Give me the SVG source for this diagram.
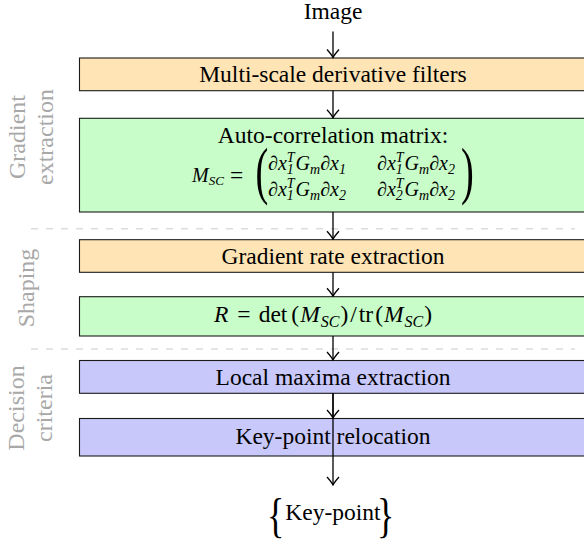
<svg xmlns="http://www.w3.org/2000/svg" width="584" height="541" viewBox="0 0 584 541">
<style>
.box{stroke:#1a1a1a;stroke-width:1.1}
.orange{fill:#FFE4B5}
.green{fill:#C8FCC8}
.blue{fill:#C8C8FA}
.t{font-family:"Liberation Serif","Times New Roman",serif;font-size:23.5px;text-anchor:middle;fill:#000}
.s{font-family:"Liberation Serif","Times New Roman",serif;font-size:23.5px;fill:#000}
.m{font-family:"Liberation Serif","Times New Roman",serif;font-size:20px;font-style:italic;fill:#000}
.i{font-style:italic}
.sub{font-size:14px;font-style:italic}
.sub16{font-size:16px;font-style:italic}
.lab{font-family:"Liberation Serif","Times New Roman",serif;font-size:24px;fill:#a8a8a8;text-anchor:middle}
.sep{stroke:#dcdcdc;stroke-width:1.5;stroke-dasharray:7 8;fill:none}
#connectors line{stroke:#000;stroke-width:1.3;marker-end:url(#arr)}
</style>
<defs>
<marker id="arr" viewBox="-9 -7 10 14" refX="0" refY="0" markerWidth="10" markerHeight="14" markerUnits="userSpaceOnUse" orient="auto">
<path d="M-8,-6 Q-3,-1.5 0,0 Q-3,1.5 -8,6" fill="none" stroke="#000" stroke-width="1.3"/>
</marker>
</defs>
<rect width="584" height="541" fill="#fff"/>

<g id="separators">
<line class="sep" x1="31" y1="228.7" x2="575" y2="228.7"/>
<line class="sep" x1="31" y1="349" x2="575" y2="349"/>
</g>

<g id="labels">
<text class="lab" transform="translate(25,137) rotate(-90)">Gradient</text>
<text class="lab" transform="translate(53,137) rotate(-90)">extraction</text>
<text class="lab" transform="translate(34,288) rotate(-90)">Shaping</text>
<text class="lab" transform="translate(24,408) rotate(-90)">Decision</text>
<text class="lab" transform="translate(52,408) rotate(-90)">criteria</text>
</g>

<g id="image">
<text class="t" x="333" y="19">Image</text>
</g>

<g id="filters">
<rect class="box orange" x="79.5" y="58" width="506" height="32.7"/>
<text class="t" x="333" y="82">Multi-scale derivative filters</text>
</g>

<g id="autocorr">
<rect class="box green" x="79.5" y="118.3" width="506" height="93.7"/>
<text class="t" x="333" y="142.5">Auto-correlation matrix:</text>
<text class="m" x="192" y="182">M<tspan style="font-size:13px" dy="3">SC</tspan></text>
<text class="s" x="230" y="183">=</text>
<text class="s" style="font-size:64px" transform="translate(255.5,192) scale(0.6,1)">(</text>
<text class="s" style="font-size:64px" transform="translate(461,192) scale(0.6,1)">)</text>
<text class="m" x="268" y="170">∂x<tspan class="sub" dy="4">1</tspan><tspan class="sub" dx="-7" dy="-12">T</tspan><tspan dx="1" dy="8">G</tspan><tspan class="sub" dy="4">m</tspan><tspan dy="-4">∂x</tspan><tspan class="sub" dy="4">1</tspan></text>
<text class="m" x="377" y="170">∂x<tspan class="sub" dy="4">1</tspan><tspan class="sub" dx="-7" dy="-12">T</tspan><tspan dx="1" dy="8">G</tspan><tspan class="sub" dy="4">m</tspan><tspan dy="-4">∂x</tspan><tspan class="sub" dy="4">2</tspan></text>
<text class="m" x="268" y="196">∂x<tspan class="sub" dy="4">1</tspan><tspan class="sub" dx="-7" dy="-12">T</tspan><tspan dx="1" dy="8">G</tspan><tspan class="sub" dy="4">m</tspan><tspan dy="-4">∂x</tspan><tspan class="sub" dy="4">2</tspan></text>
<text class="m" x="377" y="196">∂x<tspan class="sub" dy="4">2</tspan><tspan class="sub" dx="-7" dy="-12">T</tspan><tspan dx="1" dy="8">G</tspan><tspan class="sub" dy="4">m</tspan><tspan dy="-4">∂x</tspan><tspan class="sub" dy="4">2</tspan></text>
</g>

<g id="rate">
<rect class="box orange" x="79.5" y="239.7" width="506" height="32.6"/>
<text class="t" x="333" y="263.5">Gradient rate extraction</text>
</g>

<g id="response">
<rect class="box green" x="79.5" y="296.7" width="506" height="39.3"/>
<text class="s" x="214" y="322"><tspan class="i">R</tspan><tspan dx="9">=</tspan><tspan dx="8">det</tspan><tspan dx="4">(</tspan><tspan class="i" dx="1">M</tspan><tspan class="sub16" dx="1" dy="4.5">SC</tspan><tspan dx="1" dy="-4.5">)</tspan><tspan dx="2">/</tspan><tspan dx="2">tr</tspan><tspan dx="2">(</tspan><tspan class="i" dx="1">M</tspan><tspan class="sub16" dx="1" dy="4.5">SC</tspan><tspan dx="1" dy="-4.5">)</tspan></text>
</g>

<g id="maxima">
<rect class="box blue" x="79.5" y="360.5" width="506" height="32.8"/>
<text class="t" x="333" y="385">Local maxima extraction</text>
</g>

<g id="relocation">
<rect class="box blue" x="79.5" y="418.5" width="506" height="37.5"/>
<text class="t" x="333" y="443.5">Key-point relocation</text>
</g>

<g id="output">
<text class="s" style="font-size:48px" transform="translate(267,532) scale(0.75,1)">{</text>
<text class="t" x="333" y="520">Key-point</text>
<text class="s" style="font-size:48px" transform="translate(377,532) scale(0.75,1)">}</text>
</g>

<g id="connectors">
<line x1="333" y1="31.5" x2="333" y2="57.5"/>
<line x1="333" y1="90.7" x2="333" y2="117.8"/>
<line x1="333" y1="212" x2="333" y2="239.2"/>
<line x1="333" y1="272.3" x2="333" y2="296.2"/>
<line x1="333" y1="336" x2="333" y2="360"/>
<line x1="333" y1="393.3" x2="333" y2="418"/>
<line x1="333" y1="393.3" x2="333" y2="485"/>
</g>
</svg>
